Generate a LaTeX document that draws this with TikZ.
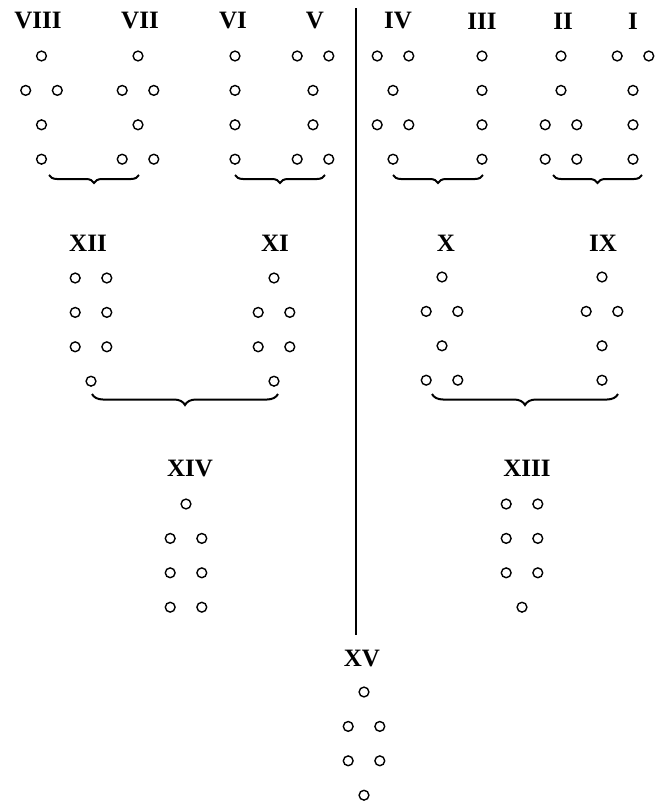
\documentclass[tikz,border=0pt]{standalone}
\usepackage{fontspec}
\setmainfont{Liberation Serif}
\usetikzlibrary{decorations.pathreplacing}
\tikzset{
  dot/.style={circle, draw, minimum size=9.8pt, inner sep=0pt, line width=1.4pt},
  lab/.style={font=\bfseries\fontsize{25}{25}\selectfont, inner sep=0pt, anchor=center},
  bracedown/.style={decorate, decoration={brace, mirror, amplitude=#1}, line width=2pt},
  divider/.style={line width=1.7pt}
}
% name, centre x, first-row y, label x, label y, rows (1 = single, 2 = pair)
\newcommand\geofig[6]{%
  \node[lab] (#1-lab) at (#4,#5) {#1};
  \foreach \r [count=\i] in {#6} {
    \ifnum\r=1
      \node[dot] (#1-\i) at ({#2},{#3+(\i-1)*34.4}) {};
    \else
      \node[dot] (#1-\i-a) at ({#2-15.8},{#3+(\i-1)*34.4}) {};
      \node[dot] (#1-\i-b) at ({#2+15.8},{#3+(\i-1)*34.4}) {};
    \fi
  }%
}
\begin{document}
\begin{tikzpicture}[x=1pt,y=-1pt]
\useasboundingbox (0,0) rectangle (656,806);
% divider
\coordinate (top) at (356,8);
\coordinate (bot) at (356,635);
\draw[divider] (top) -- (bot);
% top row
\geofig{VIII}{41.5}{56}{38}{21}{1,2,1,1}
\geofig{VII}{138}{56}{140}{21}{1,2,1,2}
\geofig{VI}{235}{56}{233}{21}{1,1,1,1}
\geofig{V}{313}{56}{315}{21}{2,1,1,2}
\geofig{IV}{393}{56}{398}{21}{2,1,2,1}
\geofig{III}{482}{56}{482}{21}{1,1,1,1}
\geofig{II}{561}{56}{563}{21}{1,1,2,2}
\geofig{I}{633}{56}{633}{21}{2,1,1,1}
% middle row
\geofig{XII}{91}{278}{88}{243}{2,2,2,1}
\geofig{XI}{274}{278}{275}{243}{1,2,2,1}
\geofig{X}{442}{277}{446}{243}{1,2,1,2}
\geofig{IX}{602}{277}{603}{243}{1,2,1,1}
% lower row
\geofig{XIV}{186}{504}{190}{468}{1,2,2,2}
\geofig{XIII}{522}{504}{527}{468}{2,2,2,1}
% bottom
\geofig{XV}{364}{692}{362}{658}{1,2,2,1}
% braces
\coordinate (b1l) at (49,175);  \coordinate (b1r) at (139,175);
\coordinate (b2l) at (235,175); \coordinate (b2r) at (325,175);
\coordinate (b3l) at (393,175); \coordinate (b3r) at (483,175);
\coordinate (b4l) at (553,175); \coordinate (b4r) at (642,175);
\coordinate (b5l) at (92,394);  \coordinate (b5r) at (278,394);
\coordinate (b6l) at (432,394); \coordinate (b6r) at (618,394);
\draw[bracedown=8pt] (b1l) -- (b1r);
\draw[bracedown=8pt] (b2l) -- (b2r);
\draw[bracedown=8pt] (b3l) -- (b3r);
\draw[bracedown=8pt] (b4l) -- (b4r);
\draw[bracedown=11pt] (b5l) -- (b5r);
\draw[bracedown=11pt] (b6l) -- (b6r);
\end{tikzpicture}
\end{document}
